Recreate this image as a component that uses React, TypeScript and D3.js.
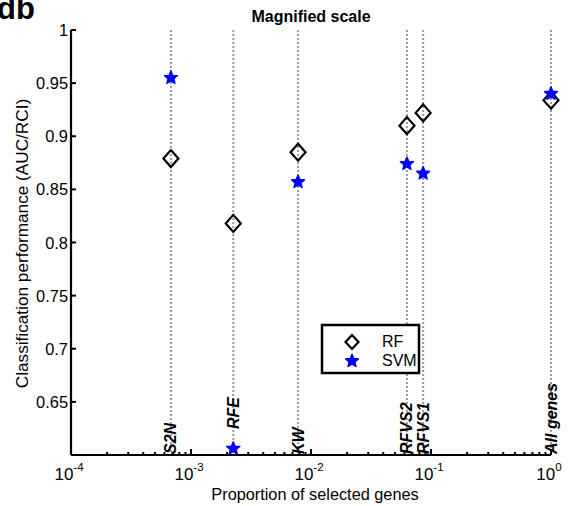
import React from "react";
import * as d3 from "d3";

const methods = ["S2N", "RFE", "KW", "RFVS2", "RFVS1", "All genes"];
const proportions = [0.00068, 0.00225, 0.0078, 0.063, 0.086, 1.0];
const rfValues = [0.879, 0.818, 0.885, 0.91, 0.922, 0.934];
const svmValues = [0.955, 0.606, 0.857, 0.874, 0.865, 0.94];
const labelBase = [0.6, 0.6235, 0.6, 0.6, 0.6, 0.6];
const yTicks = [0.65, 0.7, 0.75, 0.8, 0.85, 0.9, 0.95, 1];
const xDecades = [-4, -3, -2, -1, 0];

const W = 574, H = 506;
const L = 71, R = 551, T = 30, B = 455;

function starPath(cx: number, cy: number, ro: number, ri: number) {
  const pts: string[] = [];
  for (let i = 0; i < 10; i++) {
    const r = i % 2 === 0 ? ro : ri;
    const a = -Math.PI / 2 + (i * Math.PI) / 5;
    pts.push(`${cx + r * Math.cos(a)},${cy + r * Math.sin(a)}`);
  }
  return "M" + pts.join("L") + "Z";
}
function diamondPath(cx: number, cy: number, w: number, h: number) {
  return `M${cx},${cy - h}L${cx + w},${cy}L${cx},${cy + h}L${cx - w},${cy}Z`;
}

export default function App() {
  const x = d3.scaleLog().domain([1e-4, 1]).range([L, R]);
  const y = d3.scaleLinear().domain([0.6, 1]).range([B, T]);
  const minor: number[] = [];
  for (let d = -4; d < 0; d++) for (let k = 2; k <= 9; k++) minor.push(k * Math.pow(10, d));
  const font = "'Liberation Sans', Arial, sans-serif";
  return (
    <svg width={W} height={H} style={{ position: "absolute", left: 0, top: 0 }} fontFamily={font}>
      <rect width={W} height={H} fill="#fff" />
      <text x={-3} y={19} fontSize={31} fontWeight="bold">db</text>
      <text x={311} y={21.5} fontSize={16} fontWeight="bold" textAnchor="middle">Magnified scale</text>
      {proportions.map((p, i) => (
        <line key={"g" + i} x1={x(p)} x2={x(p)} y1={T} y2={B} stroke="#999" strokeWidth={2} strokeDasharray="2,2" />
      ))}
      {proportions.map((p, i) => (
        <text key={"l" + i} transform={`translate(${x(p) + 5.5},${y(labelBase[i]) - 1}) rotate(-90)`} fontSize={16} fontWeight="bold" fontStyle="italic">{methods[i]}</text>
      ))}
      {proportions.map((p, i) => (
        <path key={"d" + i} d={diamondPath(x(p), y(rfValues[i]), 7.5, 8.5)} fill="none" stroke="#000" strokeWidth={2.2} />
      ))}
      {proportions.map((p, i) => (
        <path key={"s" + i} d={starPath(x(p), y(svmValues[i]), 7, 3.2)} fill="#0000ff" stroke="#0000ff" strokeWidth={1.2} strokeLinejoin="round" />
      ))}
      <line x1={L} x2={L} y1={T} y2={B} stroke="#000" strokeWidth={2.2} />
      <line x1={L} x2={R} y1={B} y2={B} stroke="#000" strokeWidth={2.2} />
      {yTicks.map((t) => (
        <g key={"yt" + t}>
          <line x1={L} x2={L + 5} y1={y(t)} y2={y(t)} stroke="#000" strokeWidth={2} />
          <text x={L - 3} y={y(t) + 6} fontSize={16.4} textAnchor="end">{t}</text>
        </g>
      ))}
      {minor.map((m, i) => (
        <line key={"mt" + i} x1={x(m)} x2={x(m)} y1={B} y2={B - 3} stroke="#000" strokeWidth={2} />
      ))}
      {xDecades.map((d) => (
        <g key={"xt" + d}>
          <line x1={x(Math.pow(10, d))} x2={x(Math.pow(10, d))} y1={B} y2={B - 6} stroke="#000" strokeWidth={2} />
          <text x={x(Math.pow(10, d)) - 2} y={480} fontSize={17} textAnchor="middle">
            10<tspan dy={-9} fontSize={11.5}>{d}</tspan>
          </text>
        </g>
      ))}
      <text x={315} y={500} fontSize={16.3} textAnchor="middle">Proportion of selected genes</text>
      <text transform={`translate(28,243.5) rotate(-90)`} fontSize={17.2} textAnchor="middle">Classification performance (AUC/RCI)</text>
      <rect x={322} y={325} width={97} height={48} fill="#fff" stroke="#000" strokeWidth={2.5} />
      <path d={diamondPath(352, 342, 6.5, 7)} fill="none" stroke="#000" strokeWidth={2.2} />
      <text x={382} y={347} fontSize={16}>RF</text>
      <path d={starPath(352, 361, 7, 3.2)} fill="#0000ff" stroke="#0000ff" strokeWidth={1.2} strokeLinejoin="round" />
      <text x={382} y={366} fontSize={16}>SVM</text>
    </svg>
  );
}
